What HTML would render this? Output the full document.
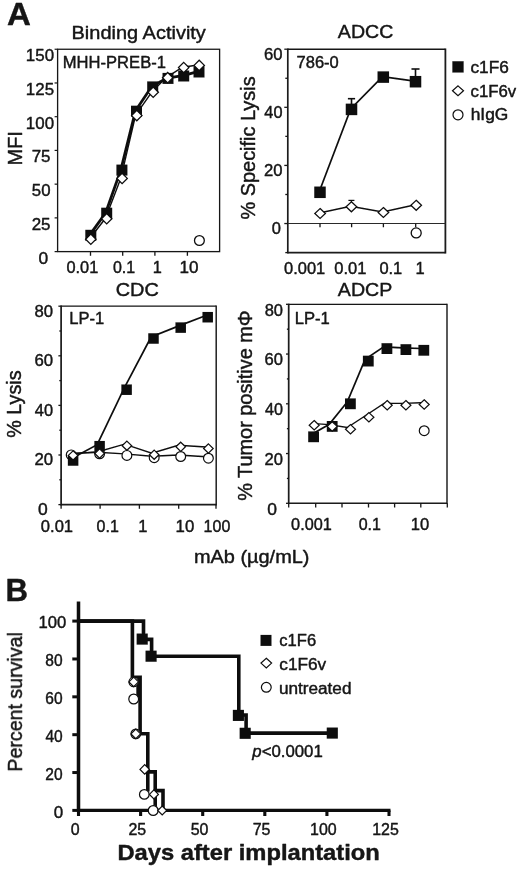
<!DOCTYPE html>
<html lang="en"><head><meta charset="utf-8"><title>Figure: c1F6 antibody activity</title>
<style>html,body{margin:0;padding:0;background:#fff}svg{display:block}svg text{font-family:"Liberation Sans",sans-serif;fill:#141414;stroke:#141414;stroke-width:.42px;stroke-linejoin:round}</style></head><body>
<svg width="520" height="869" viewBox="0 0 520 869">
<defs><filter id="soft" x="0" y="0" width="520" height="869" filterUnits="userSpaceOnUse"><feGaussianBlur stdDeviation="0.45"/></filter></defs>
<rect width="520" height="869" fill="#fff"/>
<g filter="url(#soft)">
<text x="7.13" y="24.90" font-size="31.5" text-anchor="start" font-weight="bold" textLength="23.82" lengthAdjust="spacingAndGlyphs">A</text>
<text x="5.53" y="601.20" font-size="31.0" text-anchor="start" font-weight="bold" textLength="22.49" lengthAdjust="spacingAndGlyphs">B</text>
<rect x="57.60" y="49.25" width="162.00" height="202.35" fill="none" stroke="#161616" stroke-width="1.3"/>
<text x="71.55" y="38.70" font-size="19.0" text-anchor="start" textLength="134.31" lengthAdjust="spacingAndGlyphs">Binding Activity</text>
<text x="62.82" y="67.80" font-size="16.2" text-anchor="start" textLength="103.10" lengthAdjust="spacingAndGlyphs">MHH-PREB-1</text>
<line x1="54.60" y1="49.25" x2="57.60" y2="49.25" stroke="#161616" stroke-width="1.2" stroke-linecap="butt"/>
<text x="25.88" y="61.15" font-size="16.4" text-anchor="start" textLength="28.20" lengthAdjust="spacingAndGlyphs">150</text>
<line x1="54.60" y1="82.97" x2="57.60" y2="82.97" stroke="#161616" stroke-width="1.2" stroke-linecap="butt"/>
<text x="25.88" y="94.88" font-size="16.4" text-anchor="start" textLength="28.20" lengthAdjust="spacingAndGlyphs">125</text>
<line x1="54.60" y1="116.70" x2="57.60" y2="116.70" stroke="#161616" stroke-width="1.2" stroke-linecap="butt"/>
<text x="25.88" y="128.60" font-size="16.4" text-anchor="start" textLength="28.20" lengthAdjust="spacingAndGlyphs">100</text>
<line x1="54.60" y1="150.43" x2="57.60" y2="150.43" stroke="#161616" stroke-width="1.2" stroke-linecap="butt"/>
<text x="31.70" y="162.43" font-size="16.4" text-anchor="start" textLength="18.87" lengthAdjust="spacingAndGlyphs">75</text>
<line x1="54.60" y1="184.15" x2="57.60" y2="184.15" stroke="#161616" stroke-width="1.2" stroke-linecap="butt"/>
<text x="31.88" y="196.15" font-size="16.4" text-anchor="start" textLength="18.68" lengthAdjust="spacingAndGlyphs">50</text>
<line x1="54.60" y1="217.88" x2="57.60" y2="217.88" stroke="#161616" stroke-width="1.2" stroke-linecap="butt"/>
<text x="31.70" y="229.88" font-size="16.4" text-anchor="start" textLength="18.87" lengthAdjust="spacingAndGlyphs">25</text>
<line x1="54.60" y1="251.60" x2="57.60" y2="251.60" stroke="#161616" stroke-width="1.2" stroke-linecap="butt"/>
<text x="38.58" y="263.60" font-size="16.4" text-anchor="start" textLength="9.67" lengthAdjust="spacingAndGlyphs">0</text>
<line x1="90.50" y1="251.60" x2="90.50" y2="255.80" stroke="#161616" stroke-width="1.3" stroke-linecap="butt"/>
<line x1="122.70" y1="251.60" x2="122.70" y2="255.80" stroke="#161616" stroke-width="1.3" stroke-linecap="butt"/>
<line x1="154.90" y1="251.60" x2="154.90" y2="255.80" stroke="#161616" stroke-width="1.3" stroke-linecap="butt"/>
<line x1="187.40" y1="251.60" x2="187.40" y2="255.80" stroke="#161616" stroke-width="1.3" stroke-linecap="butt"/>
<text x="66.50" y="273.00" font-size="16.3" text-anchor="start" textLength="31.79" lengthAdjust="spacingAndGlyphs">0.01</text>
<text x="112.91" y="273.00" font-size="16.3" text-anchor="start" textLength="22.24" lengthAdjust="spacingAndGlyphs">0.1</text>
<text x="152.77" y="273.00" font-size="16.3" text-anchor="start" textLength="9.07" lengthAdjust="spacingAndGlyphs">1</text>
<text x="179.57" y="273.00" font-size="16.3" text-anchor="start" textLength="19.00" lengthAdjust="spacingAndGlyphs">10</text>
<text x="22.20" y="165.60" font-size="20" text-anchor="start" transform="rotate(-90 22.20 165.60)">MFI</text>
<polyline points="89.80,234.90 105.70,212.80 120.90,169.70 135.50,110.80 151.70,86.50 167.00,78.00 182.70,75.60 198.00,71.60" fill="none" stroke="#0e0e0e" stroke-width="2.8" stroke-linejoin="miter"/>
<rect x="85.30" y="229.80" width="11" height="11" fill="#0e0e0e"/>
<rect x="101.20" y="207.70" width="11" height="11" fill="#0e0e0e"/>
<rect x="116.40" y="164.60" width="11" height="11" fill="#0e0e0e"/>
<rect x="131.00" y="105.70" width="11" height="11" fill="#0e0e0e"/>
<rect x="147.20" y="81.40" width="11" height="11" fill="#0e0e0e"/>
<rect x="162.50" y="72.90" width="11" height="11" fill="#0e0e0e"/>
<rect x="178.20" y="70.50" width="11" height="11" fill="#0e0e0e"/>
<rect x="193.50" y="66.50" width="11" height="11" fill="#0e0e0e"/>
<polyline points="89.60,238.80 105.50,218.30 120.90,178.00 135.60,115.20 152.00,91.80 166.50,77.30 182.50,67.20 198.00,65.00" fill="none" stroke="#0e0e0e" stroke-width="1.4" stroke-linejoin="miter"/>
<polygon points="90.80,234.00 96.00,239.20 90.80,244.40 85.60,239.20" fill="#fff" stroke="#0e0e0e" stroke-width="1.3"/>
<polygon points="106.70,213.50 111.90,218.70 106.70,223.90 101.50,218.70" fill="#fff" stroke="#0e0e0e" stroke-width="1.3"/>
<polygon points="122.10,173.20 127.30,178.40 122.10,183.60 116.90,178.40" fill="#fff" stroke="#0e0e0e" stroke-width="1.3"/>
<polygon points="136.80,110.40 142.00,115.60 136.80,120.80 131.60,115.60" fill="#fff" stroke="#0e0e0e" stroke-width="1.3"/>
<polygon points="153.20,87.00 158.40,92.20 153.20,97.40 148.00,92.20" fill="#fff" stroke="#0e0e0e" stroke-width="1.3"/>
<polygon points="167.70,72.50 172.90,77.70 167.70,82.90 162.50,77.70" fill="#fff" stroke="#0e0e0e" stroke-width="1.3"/>
<polygon points="183.70,62.40 188.90,67.60 183.70,72.80 178.50,67.60" fill="#fff" stroke="#0e0e0e" stroke-width="1.3"/>
<polygon points="199.20,60.20 204.40,65.40 199.20,70.60 194.00,65.40" fill="#fff" stroke="#0e0e0e" stroke-width="1.3"/>
<circle cx="199.40" cy="240.50" r="4.9" fill="#fff" stroke="#0e0e0e" stroke-width="1.3"/>
<line x1="287.80" y1="48.53" x2="287.80" y2="253.50" stroke="#1a1a1a" stroke-width="1.7" stroke-linecap="butt"/>
<line x1="445.40" y1="48.53" x2="445.40" y2="253.50" stroke="#1a1a1a" stroke-width="1.8" stroke-linecap="butt"/>
<line x1="287.80" y1="49.20" x2="445.40" y2="49.20" stroke="#161616" stroke-width="1.35" stroke-linecap="butt"/>
<line x1="287.80" y1="252.60" x2="445.40" y2="252.60" stroke="#1a1a1a" stroke-width="1.8" stroke-linecap="butt"/>
<text x="337.85" y="38.20" font-size="19.2" text-anchor="start" textLength="55.45" lengthAdjust="spacingAndGlyphs">ADCC</text>
<text x="296.52" y="67.70" font-size="16.2" text-anchor="start" textLength="42.23" lengthAdjust="spacingAndGlyphs">786-0</text>
<line x1="287.80" y1="223.54" x2="445.40" y2="223.54" stroke="#2c2c2c" stroke-width="1.05" stroke-linecap="butt"/>
<line x1="284.30" y1="49.20" x2="287.80" y2="49.20" stroke="#161616" stroke-width="1.3" stroke-linecap="butt"/>
<line x1="285.30" y1="78.26" x2="287.80" y2="78.26" stroke="#161616" stroke-width="1.3" stroke-linecap="butt"/>
<line x1="284.30" y1="107.31" x2="287.80" y2="107.31" stroke="#161616" stroke-width="1.3" stroke-linecap="butt"/>
<line x1="285.30" y1="136.37" x2="287.80" y2="136.37" stroke="#161616" stroke-width="1.3" stroke-linecap="butt"/>
<line x1="284.30" y1="165.43" x2="287.80" y2="165.43" stroke="#161616" stroke-width="1.3" stroke-linecap="butt"/>
<line x1="285.30" y1="194.49" x2="287.80" y2="194.49" stroke="#161616" stroke-width="1.3" stroke-linecap="butt"/>
<line x1="284.30" y1="223.54" x2="287.80" y2="223.54" stroke="#161616" stroke-width="1.3" stroke-linecap="butt"/>
<line x1="285.30" y1="252.60" x2="287.80" y2="252.60" stroke="#161616" stroke-width="1.3" stroke-linecap="butt"/>
<text x="263.92" y="59.50" font-size="16.5" text-anchor="start" textLength="18.54" lengthAdjust="spacingAndGlyphs">60</text>
<text x="264.34" y="117.61" font-size="16.5" text-anchor="start" textLength="18.10" lengthAdjust="spacingAndGlyphs">40</text>
<text x="263.92" y="175.73" font-size="16.5" text-anchor="start" textLength="18.54" lengthAdjust="spacingAndGlyphs">20</text>
<text x="271.72" y="233.94" font-size="16.5" text-anchor="start" textLength="9.18" lengthAdjust="spacingAndGlyphs">0</text>
<line x1="320.00" y1="223.54" x2="320.00" y2="227.24" stroke="#161616" stroke-width="1.3" stroke-linecap="butt"/>
<line x1="351.60" y1="223.54" x2="351.60" y2="227.24" stroke="#161616" stroke-width="1.3" stroke-linecap="butt"/>
<line x1="383.40" y1="223.54" x2="383.40" y2="227.24" stroke="#161616" stroke-width="1.3" stroke-linecap="butt"/>
<line x1="415.70" y1="223.54" x2="415.70" y2="227.24" stroke="#161616" stroke-width="1.3" stroke-linecap="butt"/>
<text x="284.09" y="273.90" font-size="16.5" text-anchor="start" textLength="41.12" lengthAdjust="spacingAndGlyphs">0.001</text>
<text x="334.29" y="273.90" font-size="16.5" text-anchor="start" textLength="32.11" lengthAdjust="spacingAndGlyphs">0.01</text>
<text x="379.39" y="273.90" font-size="16.5" text-anchor="start" textLength="22.88" lengthAdjust="spacingAndGlyphs">0.1</text>
<text x="415.51" y="273.90" font-size="16.5" text-anchor="start" textLength="9.18" lengthAdjust="spacingAndGlyphs">1</text>
<text x="255.50" y="219.60" font-size="19.95" text-anchor="start" transform="rotate(-90 255.50 219.60)">% Specific Lysis</text>
<line x1="351.50" y1="109.40" x2="351.50" y2="98.70" stroke="#0e0e0e" stroke-width="1.6" stroke-linecap="butt"/>
<line x1="347.90" y1="98.70" x2="355.10" y2="98.70" stroke="#0e0e0e" stroke-width="1.6" stroke-linecap="butt"/>
<line x1="415.50" y1="81.70" x2="415.50" y2="69.00" stroke="#0e0e0e" stroke-width="1.6" stroke-linecap="butt"/>
<line x1="411.50" y1="69.00" x2="419.50" y2="69.00" stroke="#0e0e0e" stroke-width="1.6" stroke-linecap="butt"/>
<line x1="351.40" y1="206.80" x2="351.40" y2="200.40" stroke="#0e0e0e" stroke-width="1.2" stroke-linecap="butt"/>
<line x1="348.40" y1="200.40" x2="354.40" y2="200.40" stroke="#0e0e0e" stroke-width="1.2" stroke-linecap="butt"/>
<polyline points="319.20,191.80 350.70,108.90 382.50,76.60 414.70,81.20" fill="none" stroke="#0e0e0e" stroke-width="1.7" stroke-linejoin="miter"/>
<rect x="314.25" y="186.55" width="11.5" height="11.5" fill="#0e0e0e"/>
<rect x="345.75" y="103.65" width="11.5" height="11.5" fill="#0e0e0e"/>
<rect x="377.55" y="71.35" width="11.5" height="11.5" fill="#0e0e0e"/>
<rect x="409.75" y="75.95" width="11.5" height="11.5" fill="#0e0e0e"/>
<polyline points="319.30,213.00 350.60,206.30 382.60,212.00 415.40,204.80" fill="none" stroke="#0e0e0e" stroke-width="1.5" stroke-linejoin="miter"/>
<polygon points="320.10,208.50 325.40,213.50 320.10,218.50 314.80,213.50" fill="#fff" stroke="#0e0e0e" stroke-width="1.25"/>
<polygon points="351.40,201.80 356.70,206.80 351.40,211.80 346.10,206.80" fill="#fff" stroke="#0e0e0e" stroke-width="1.25"/>
<polygon points="383.40,207.50 388.70,212.50 383.40,217.50 378.10,212.50" fill="#fff" stroke="#0e0e0e" stroke-width="1.25"/>
<polygon points="416.20,200.30 421.50,205.30 416.20,210.30 410.90,205.30" fill="#fff" stroke="#0e0e0e" stroke-width="1.25"/>
<circle cx="416.20" cy="232.90" r="5.0" fill="#fff" stroke="#0e0e0e" stroke-width="1.3"/>
<rect x="452.35" y="61.25" width="11.3" height="11.3" fill="#0e0e0e"/>
<polygon points="458.00,85.90 463.50,90.80 458.00,95.70 452.50,90.80" fill="#fff" stroke="#0e0e0e" stroke-width="1.2"/>
<circle cx="458.00" cy="114.80" r="5.0" fill="#fff" stroke="#0e0e0e" stroke-width="1.2"/>
<text x="470.47" y="73.10" font-size="15.6" text-anchor="start" textLength="38.31" lengthAdjust="spacingAndGlyphs">c1F6</text>
<text x="470.49" y="96.90" font-size="15.6" text-anchor="start" textLength="45.71" lengthAdjust="spacingAndGlyphs">c1F6v</text>
<text x="470.74" y="119.70" font-size="15.6" text-anchor="start" textLength="37.58" lengthAdjust="spacingAndGlyphs">hIgG</text>
<line x1="61.10" y1="305.55" x2="61.10" y2="505.40" stroke="#1a1a1a" stroke-width="1.7" stroke-linecap="butt"/>
<line x1="216.20" y1="305.55" x2="216.20" y2="505.40" stroke="#1a1a1a" stroke-width="1.45" stroke-linecap="butt"/>
<line x1="61.10" y1="306.20" x2="216.20" y2="306.20" stroke="#161616" stroke-width="1.3" stroke-linecap="butt"/>
<line x1="61.10" y1="504.60" x2="216.20" y2="504.60" stroke="#1a1a1a" stroke-width="1.6" stroke-linecap="butt"/>
<text x="115.75" y="296.20" font-size="19.0" text-anchor="start" textLength="43.12" lengthAdjust="spacingAndGlyphs">CDC</text>
<text x="69.23" y="323.50" font-size="16.0" text-anchor="start" textLength="34.89" lengthAdjust="spacingAndGlyphs">LP-1</text>
<line x1="58.40" y1="306.20" x2="61.10" y2="306.20" stroke="#161616" stroke-width="1.3" stroke-linecap="butt"/>
<line x1="59.30" y1="331.00" x2="61.10" y2="331.00" stroke="#161616" stroke-width="1.3" stroke-linecap="butt"/>
<line x1="58.40" y1="355.80" x2="61.10" y2="355.80" stroke="#161616" stroke-width="1.3" stroke-linecap="butt"/>
<line x1="59.30" y1="380.60" x2="61.10" y2="380.60" stroke="#161616" stroke-width="1.3" stroke-linecap="butt"/>
<line x1="58.40" y1="405.40" x2="61.10" y2="405.40" stroke="#161616" stroke-width="1.3" stroke-linecap="butt"/>
<line x1="59.30" y1="430.20" x2="61.10" y2="430.20" stroke="#161616" stroke-width="1.3" stroke-linecap="butt"/>
<line x1="58.40" y1="455.00" x2="61.10" y2="455.00" stroke="#161616" stroke-width="1.3" stroke-linecap="butt"/>
<line x1="59.30" y1="479.80" x2="61.10" y2="479.80" stroke="#161616" stroke-width="1.3" stroke-linecap="butt"/>
<line x1="58.40" y1="504.60" x2="61.10" y2="504.60" stroke="#161616" stroke-width="1.3" stroke-linecap="butt"/>
<text x="34.50" y="316.60" font-size="16.5" text-anchor="start" textLength="18.56" lengthAdjust="spacingAndGlyphs">80</text>
<text x="34.41" y="366.20" font-size="16.5" text-anchor="start" textLength="18.65" lengthAdjust="spacingAndGlyphs">60</text>
<text x="34.84" y="415.80" font-size="16.5" text-anchor="start" textLength="18.20" lengthAdjust="spacingAndGlyphs">40</text>
<text x="34.41" y="465.40" font-size="16.5" text-anchor="start" textLength="18.65" lengthAdjust="spacingAndGlyphs">20</text>
<text x="37.95" y="515.00" font-size="16.5" text-anchor="start" textLength="9.73" lengthAdjust="spacingAndGlyphs">0</text>
<line x1="61.10" y1="504.60" x2="61.10" y2="508.80" stroke="#161616" stroke-width="1.3" stroke-linecap="butt"/>
<line x1="100.10" y1="504.60" x2="100.10" y2="508.80" stroke="#161616" stroke-width="1.3" stroke-linecap="butt"/>
<line x1="139.40" y1="504.60" x2="139.40" y2="508.80" stroke="#161616" stroke-width="1.3" stroke-linecap="butt"/>
<line x1="178.70" y1="504.60" x2="178.70" y2="508.80" stroke="#161616" stroke-width="1.3" stroke-linecap="butt"/>
<line x1="216.00" y1="504.60" x2="216.00" y2="508.80" stroke="#161616" stroke-width="1.3" stroke-linecap="butt"/>
<text x="40.89" y="531.90" font-size="16.5" text-anchor="start" textLength="32.21" lengthAdjust="spacingAndGlyphs">0.01</text>
<text x="96.61" y="531.90" font-size="16.5" text-anchor="start" textLength="22.25" lengthAdjust="spacingAndGlyphs">0.1</text>
<text x="138.21" y="531.90" font-size="16.5" text-anchor="start" textLength="9.18" lengthAdjust="spacingAndGlyphs">1</text>
<text x="175.59" y="531.90" font-size="16.5" text-anchor="start" textLength="18.67" lengthAdjust="spacingAndGlyphs">10</text>
<text x="203.60" y="531.90" font-size="16.5" text-anchor="start" textLength="26.70" lengthAdjust="spacingAndGlyphs">100</text>
<text x="20.90" y="437.80" font-size="19.8" text-anchor="start" transform="rotate(-90 20.90 437.80)">% Lysis</text>
<polyline points="68.80,453.40 97.20,452.30 124.50,453.90 151.80,456.20 178.30,455.00 206.00,456.70" fill="none" stroke="#0e0e0e" stroke-width="1.4" stroke-linejoin="miter"/>
<circle cx="71.20" cy="454.90" r="4.9" fill="#fff" stroke="#0e0e0e" stroke-width="1.2"/>
<circle cx="99.60" cy="453.80" r="4.9" fill="#fff" stroke="#0e0e0e" stroke-width="1.2"/>
<circle cx="126.90" cy="455.40" r="4.9" fill="#fff" stroke="#0e0e0e" stroke-width="1.2"/>
<circle cx="154.20" cy="457.70" r="4.9" fill="#fff" stroke="#0e0e0e" stroke-width="1.2"/>
<circle cx="180.70" cy="456.50" r="4.9" fill="#fff" stroke="#0e0e0e" stroke-width="1.2"/>
<circle cx="208.40" cy="458.20" r="4.9" fill="#fff" stroke="#0e0e0e" stroke-width="1.2"/>
<polyline points="70.70,459.00 97.20,444.70 124.20,388.20 151.10,337.00 178.30,326.10 205.30,315.70" fill="none" stroke="#0e0e0e" stroke-width="1.7" stroke-linejoin="miter"/>
<rect x="67.85" y="455.25" width="10.5" height="10.5" fill="#0e0e0e"/>
<rect x="94.35" y="440.95" width="10.5" height="10.5" fill="#0e0e0e"/>
<rect x="121.35" y="384.45" width="10.5" height="10.5" fill="#0e0e0e"/>
<rect x="148.25" y="333.25" width="10.5" height="10.5" fill="#0e0e0e"/>
<rect x="175.45" y="322.35" width="10.5" height="10.5" fill="#0e0e0e"/>
<rect x="202.45" y="311.95" width="10.5" height="10.5" fill="#0e0e0e"/>
<polyline points="70.70,453.90 97.20,452.00 124.50,444.20 151.80,453.20 178.30,445.30 206.00,447.00" fill="none" stroke="#0e0e0e" stroke-width="1.4" stroke-linejoin="miter"/>
<polygon points="73.10,450.80 77.90,455.40 73.10,460.00 68.30,455.40" fill="#fff" stroke="#0e0e0e" stroke-width="1.2"/>
<polygon points="99.60,448.90 104.40,453.50 99.60,458.10 94.80,453.50" fill="#fff" stroke="#0e0e0e" stroke-width="1.2"/>
<polygon points="126.90,441.10 131.70,445.70 126.90,450.30 122.10,445.70" fill="#fff" stroke="#0e0e0e" stroke-width="1.2"/>
<polygon points="154.20,450.10 159.00,454.70 154.20,459.30 149.40,454.70" fill="#fff" stroke="#0e0e0e" stroke-width="1.2"/>
<polygon points="180.70,442.20 185.50,446.80 180.70,451.40 175.90,446.80" fill="#fff" stroke="#0e0e0e" stroke-width="1.2"/>
<polygon points="208.40,443.90 213.20,448.50 208.40,453.10 203.60,448.50" fill="#fff" stroke="#0e0e0e" stroke-width="1.2"/>
<line x1="288.70" y1="303.65" x2="288.70" y2="504.10" stroke="#1a1a1a" stroke-width="1.7" stroke-linecap="butt"/>
<line x1="447.00" y1="303.65" x2="447.00" y2="504.10" stroke="#1a1a1a" stroke-width="1.45" stroke-linecap="butt"/>
<line x1="288.70" y1="304.30" x2="447.00" y2="304.30" stroke="#161616" stroke-width="1.3" stroke-linecap="butt"/>
<line x1="288.70" y1="503.30" x2="447.00" y2="503.30" stroke="#1a1a1a" stroke-width="1.6" stroke-linecap="butt"/>
<text x="337.85" y="296.00" font-size="18.8" text-anchor="start" textLength="54.45" lengthAdjust="spacingAndGlyphs">ADCP</text>
<text x="294.72" y="324.00" font-size="16.0" text-anchor="start" textLength="35.10" lengthAdjust="spacingAndGlyphs">LP-1</text>
<line x1="286.00" y1="304.30" x2="288.70" y2="304.30" stroke="#161616" stroke-width="1.3" stroke-linecap="butt"/>
<line x1="286.90" y1="329.18" x2="288.70" y2="329.18" stroke="#161616" stroke-width="1.3" stroke-linecap="butt"/>
<line x1="286.00" y1="354.05" x2="288.70" y2="354.05" stroke="#161616" stroke-width="1.3" stroke-linecap="butt"/>
<line x1="286.90" y1="378.93" x2="288.70" y2="378.93" stroke="#161616" stroke-width="1.3" stroke-linecap="butt"/>
<line x1="286.00" y1="403.80" x2="288.70" y2="403.80" stroke="#161616" stroke-width="1.3" stroke-linecap="butt"/>
<line x1="286.90" y1="428.68" x2="288.70" y2="428.68" stroke="#161616" stroke-width="1.3" stroke-linecap="butt"/>
<line x1="286.00" y1="453.55" x2="288.70" y2="453.55" stroke="#161616" stroke-width="1.3" stroke-linecap="butt"/>
<line x1="286.90" y1="478.43" x2="288.70" y2="478.43" stroke="#161616" stroke-width="1.3" stroke-linecap="butt"/>
<line x1="286.00" y1="503.30" x2="288.70" y2="503.30" stroke="#161616" stroke-width="1.3" stroke-linecap="butt"/>
<text x="264.71" y="315.70" font-size="16.5" text-anchor="start" textLength="18.34" lengthAdjust="spacingAndGlyphs">80</text>
<text x="264.62" y="365.45" font-size="16.5" text-anchor="start" textLength="18.43" lengthAdjust="spacingAndGlyphs">60</text>
<text x="265.05" y="415.20" font-size="16.5" text-anchor="start" textLength="17.99" lengthAdjust="spacingAndGlyphs">40</text>
<text x="264.62" y="464.95" font-size="16.5" text-anchor="start" textLength="18.43" lengthAdjust="spacingAndGlyphs">20</text>
<text x="267.15" y="514.60" font-size="16.5" text-anchor="start" textLength="9.73" lengthAdjust="spacingAndGlyphs">0</text>
<line x1="288.70" y1="503.30" x2="288.70" y2="507.50" stroke="#161616" stroke-width="1.3" stroke-linecap="butt"/>
<line x1="315.70" y1="503.30" x2="315.70" y2="507.50" stroke="#161616" stroke-width="1.3" stroke-linecap="butt"/>
<line x1="342.00" y1="503.30" x2="342.00" y2="507.50" stroke="#161616" stroke-width="1.3" stroke-linecap="butt"/>
<line x1="368.50" y1="503.30" x2="368.50" y2="507.50" stroke="#161616" stroke-width="1.3" stroke-linecap="butt"/>
<line x1="394.60" y1="503.30" x2="394.60" y2="507.50" stroke="#161616" stroke-width="1.3" stroke-linecap="butt"/>
<line x1="420.80" y1="503.30" x2="420.80" y2="507.50" stroke="#161616" stroke-width="1.3" stroke-linecap="butt"/>
<line x1="447.30" y1="503.30" x2="447.30" y2="507.50" stroke="#161616" stroke-width="1.3" stroke-linecap="butt"/>
<text x="291.10" y="529.60" font-size="16.5" text-anchor="start" textLength="40.70" lengthAdjust="spacingAndGlyphs">0.001</text>
<text x="358.66" y="529.60" font-size="16.5" text-anchor="start" textLength="22.25" lengthAdjust="spacingAndGlyphs">0.1</text>
<text x="410.71" y="529.60" font-size="16.5" text-anchor="start" textLength="18.45" lengthAdjust="spacingAndGlyphs">10</text>
<text x="251.60" y="500.80" font-size="19.9" text-anchor="start" transform="rotate(-90 251.60 500.80)">% Tumor positive mΦ</text>
<polyline points="310.40,435.00 329.00,424.60 347.20,402.00 365.10,359.30 383.70,346.80 402.70,347.80 420.60,348.50" fill="none" stroke="#0e0e0e" stroke-width="1.7" stroke-linejoin="miter"/>
<rect x="308.20" y="431.40" width="10.8" height="10.8" fill="#0e0e0e"/>
<rect x="326.80" y="421.00" width="10.8" height="10.8" fill="#0e0e0e"/>
<rect x="345.00" y="398.40" width="10.8" height="10.8" fill="#0e0e0e"/>
<rect x="362.90" y="355.70" width="10.8" height="10.8" fill="#0e0e0e"/>
<rect x="381.50" y="343.20" width="10.8" height="10.8" fill="#0e0e0e"/>
<rect x="400.50" y="344.20" width="10.8" height="10.8" fill="#0e0e0e"/>
<rect x="418.40" y="344.90" width="10.8" height="10.8" fill="#0e0e0e"/>
<polyline points="311.00,423.40 329.00,424.60 347.30,427.50 365.70,415.50 384.00,403.40 402.70,403.40 421.00,402.70" fill="none" stroke="#0e0e0e" stroke-width="1.4" stroke-linejoin="miter"/>
<polygon points="314.20,420.50 319.20,425.20 314.20,429.90 309.20,425.20" fill="#fff" stroke="#0e0e0e" stroke-width="1.2"/>
<polygon points="332.20,421.70 337.20,426.40 332.20,431.10 327.20,426.40" fill="#fff" stroke="#0e0e0e" stroke-width="1.2"/>
<polygon points="350.50,424.60 355.50,429.30 350.50,434.00 345.50,429.30" fill="#fff" stroke="#0e0e0e" stroke-width="1.2"/>
<polygon points="368.90,412.60 373.90,417.30 368.90,422.00 363.90,417.30" fill="#fff" stroke="#0e0e0e" stroke-width="1.2"/>
<polygon points="387.20,400.50 392.20,405.20 387.20,409.90 382.20,405.20" fill="#fff" stroke="#0e0e0e" stroke-width="1.2"/>
<polygon points="405.90,400.50 410.90,405.20 405.90,409.90 400.90,405.20" fill="#fff" stroke="#0e0e0e" stroke-width="1.2"/>
<polygon points="424.20,399.80 429.20,404.50 424.20,409.20 419.20,404.50" fill="#fff" stroke="#0e0e0e" stroke-width="1.2"/>
<circle cx="424.20" cy="430.70" r="4.9" fill="#fff" stroke="#0e0e0e" stroke-width="1.2"/>
<text x="193.96" y="562.60" font-size="18.6" text-anchor="start" textLength="115.48" lengthAdjust="spacingAndGlyphs">mAb (µg/mL)</text>
<line x1="78.50" y1="601.50" x2="78.50" y2="812.10" stroke="#0e0e0e" stroke-width="3.5" stroke-linecap="butt"/>
<line x1="76.90" y1="810.40" x2="390.50" y2="810.40" stroke="#0e0e0e" stroke-width="3.4" stroke-linecap="butt"/>
<line x1="72.30" y1="810.40" x2="78.50" y2="810.40" stroke="#0e0e0e" stroke-width="3.0" stroke-linecap="butt"/>
<line x1="72.30" y1="772.54" x2="78.50" y2="772.54" stroke="#0e0e0e" stroke-width="3.0" stroke-linecap="butt"/>
<line x1="72.30" y1="734.68" x2="78.50" y2="734.68" stroke="#0e0e0e" stroke-width="3.0" stroke-linecap="butt"/>
<line x1="72.30" y1="696.82" x2="78.50" y2="696.82" stroke="#0e0e0e" stroke-width="3.0" stroke-linecap="butt"/>
<line x1="72.30" y1="658.96" x2="78.50" y2="658.96" stroke="#0e0e0e" stroke-width="3.0" stroke-linecap="butt"/>
<line x1="72.30" y1="621.10" x2="78.50" y2="621.10" stroke="#0e0e0e" stroke-width="3.0" stroke-linecap="butt"/>
<line x1="78.50" y1="810.40" x2="78.50" y2="816.00" stroke="#0e0e0e" stroke-width="3.1" stroke-linecap="butt"/>
<line x1="140.60" y1="810.40" x2="140.60" y2="816.00" stroke="#0e0e0e" stroke-width="3.1" stroke-linecap="butt"/>
<line x1="202.70" y1="810.40" x2="202.70" y2="816.00" stroke="#0e0e0e" stroke-width="3.1" stroke-linecap="butt"/>
<line x1="264.80" y1="810.40" x2="264.80" y2="816.00" stroke="#0e0e0e" stroke-width="3.1" stroke-linecap="butt"/>
<line x1="326.90" y1="810.40" x2="326.90" y2="816.00" stroke="#0e0e0e" stroke-width="3.1" stroke-linecap="butt"/>
<line x1="389.00" y1="810.40" x2="389.00" y2="816.00" stroke="#0e0e0e" stroke-width="3.1" stroke-linecap="butt"/>
<text x="38.50" y="628.30" font-size="16.0" text-anchor="start" textLength="27.77" lengthAdjust="spacingAndGlyphs">100</text>
<text x="45.30" y="666.16" font-size="16.0" text-anchor="start" textLength="17.26" lengthAdjust="spacingAndGlyphs">80</text>
<text x="45.26" y="704.02" font-size="16.0" text-anchor="start" textLength="17.26" lengthAdjust="spacingAndGlyphs">60</text>
<text x="45.45" y="741.88" font-size="16.0" text-anchor="start" textLength="17.26" lengthAdjust="spacingAndGlyphs">40</text>
<text x="45.26" y="779.74" font-size="16.0" text-anchor="start" textLength="17.26" lengthAdjust="spacingAndGlyphs">20</text>
<text x="53.79" y="817.60" font-size="16.0" text-anchor="start" textLength="9.43" lengthAdjust="spacingAndGlyphs">0</text>
<text x="70.87" y="835.40" font-size="16.3" text-anchor="start" textLength="8.88" lengthAdjust="spacingAndGlyphs">0</text>
<text x="128.45" y="835.40" font-size="16.3" text-anchor="start" textLength="17.77" lengthAdjust="spacingAndGlyphs">25</text>
<text x="190.63" y="835.40" font-size="16.3" text-anchor="start" textLength="17.77" lengthAdjust="spacingAndGlyphs">50</text>
<text x="252.65" y="835.40" font-size="16.3" text-anchor="start" textLength="17.77" lengthAdjust="spacingAndGlyphs">75</text>
<text x="310.12" y="835.40" font-size="16.3" text-anchor="start" textLength="26.65" lengthAdjust="spacingAndGlyphs">100</text>
<text x="372.22" y="835.40" font-size="16.3" text-anchor="start" textLength="26.65" lengthAdjust="spacingAndGlyphs">125</text>
<text x="21.60" y="771.60" font-size="19.6" text-anchor="start" transform="rotate(-90 21.60 771.60)">Percent survival</text>
<text x="117.41" y="860.40" font-size="21.8" text-anchor="start" font-weight="bold" textLength="262.33" lengthAdjust="spacingAndGlyphs">Days after implantation</text>
<polyline points="78.50,621.10 132.40,621.10 132.40,677.20 140.10,677.20 140.10,733.80 147.80,733.80 147.80,791.50" fill="none" stroke="#0e0e0e" stroke-width="3.6" stroke-linejoin="miter"/>
<polyline points="138.00,677.20 138.00,700.00" fill="none" stroke="#0e0e0e" stroke-width="3.4" stroke-linejoin="miter"/>
<polyline points="133.00,733.80 140.10,733.80" fill="none" stroke="#0e0e0e" stroke-width="3.6" stroke-linejoin="miter"/>
<polyline points="147.80,771.90 155.20,771.90 155.20,810.40" fill="none" stroke="#0e0e0e" stroke-width="3.6" stroke-linejoin="miter"/>
<polyline points="155.20,790.60 163.00,790.60 163.00,810.40" fill="none" stroke="#0e0e0e" stroke-width="3.6" stroke-linejoin="miter"/>
<polyline points="78.50,621.10 143.50,621.10 143.50,639.40 151.60,639.40 151.60,656.20 238.80,656.20 238.80,715.00 246.10,715.00 246.10,733.10 332.00,733.10" fill="none" stroke="#0e0e0e" stroke-width="3.6" stroke-linejoin="miter"/>
<rect x="136.65" y="633.55" width="11.1" height="11.1" fill="#0e0e0e"/>
<rect x="145.55" y="650.65" width="11.1" height="11.1" fill="#0e0e0e"/>
<rect x="232.85" y="709.85" width="11.1" height="11.1" fill="#0e0e0e"/>
<rect x="239.65" y="727.75" width="11.1" height="11.1" fill="#0e0e0e"/>
<rect x="326.75" y="727.55" width="11.1" height="11.1" fill="#0e0e0e"/>
<circle cx="133.70" cy="699.00" r="4.9" fill="#fff" stroke="#0e0e0e" stroke-width="1.2"/>
<circle cx="133.70" cy="681.90" r="4.7" fill="#fff" stroke="#0e0e0e" stroke-width="1.2"/>
<circle cx="135.80" cy="733.90" r="4.8" fill="#fff" stroke="#0e0e0e" stroke-width="1.2"/>
<circle cx="144.30" cy="794.40" r="4.8" fill="#fff" stroke="#0e0e0e" stroke-width="1.2"/>
<circle cx="153.20" cy="810.50" r="4.9" fill="#fff" stroke="#0e0e0e" stroke-width="1.2"/>
<polygon points="133.70,677.10 138.50,681.90 133.70,686.70 128.90,681.90" fill="#fff" stroke="#0e0e0e" stroke-width="1.2"/>
<polygon points="135.80,729.10 140.60,733.90 135.80,738.70 131.00,733.90" fill="#fff" stroke="#0e0e0e" stroke-width="1.2"/>
<polygon points="144.70,764.70 149.40,769.40 144.70,774.10 140.00,769.40" fill="#fff" stroke="#0e0e0e" stroke-width="1.2"/>
<polygon points="153.90,789.90 158.40,794.40 153.90,798.90 149.40,794.40" fill="#fff" stroke="#0e0e0e" stroke-width="1.2"/>
<polygon points="162.20,806.00 166.70,810.50 162.20,815.00 157.70,810.50" fill="#fff" stroke="#0e0e0e" stroke-width="1.2"/>
<rect x="260.50" y="634.90" width="11.0" height="11.0" fill="#0e0e0e"/>
<polygon points="266.30,658.20 271.60,663.10 266.30,668.00 261.00,663.10" fill="#fff" stroke="#0e0e0e" stroke-width="1.2"/>
<circle cx="266.30" cy="687.30" r="4.9" fill="#fff" stroke="#0e0e0e" stroke-width="1.2"/>
<text x="279.30" y="646.40" font-size="16.0" text-anchor="start" textLength="36.84" lengthAdjust="spacingAndGlyphs">c1F6</text>
<text x="279.27" y="670.40" font-size="16.0" text-anchor="start" textLength="46.93" lengthAdjust="spacingAndGlyphs">c1F6v</text>
<text x="278.93" y="693.50" font-size="16.0" text-anchor="start" textLength="72.54" lengthAdjust="spacingAndGlyphs">untreated</text>
<text x="252.3" y="756.5" font-size="16" textLength="70.5" lengthAdjust="spacingAndGlyphs"><tspan font-style="italic">p</tspan>&lt;0.0001</text>
</g>
</svg></body></html>
